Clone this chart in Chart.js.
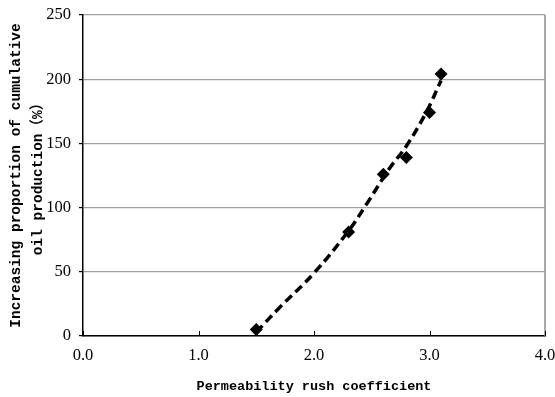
<!DOCTYPE html>
<html>
<head>
<meta charset="utf-8">
<script src="https://cdn.jsdelivr.net/npm/chart.js@4/dist/chart.umd.min.js"></script>
<style>
  html, body { margin: 0; padding: 0; background: #fff; }
  #wrap { width: 555px; height: 397px; }
</style>
</head>
<body>
<div id="wrap"><canvas id="rushChart"></canvas></div>
<script>
// measured points (diamonds)
const rushCoef = [1.50, 2.30, 2.60, 2.80, 3.00, 3.10]
const oilIncrease = [5, 81, 126, 139, 174, 204]

// dashed trend curve
const trendX = [1.50, 1.70, 2.00, 2.30, 2.45, 2.65, 2.80, 2.97, 3.10]
const trendY = [3, 22, 49, 82, 102, 130, 148, 174, 199]

const xTicks = [0, 1, 2, 3, 4]
const yTicks = [0, 50, 100, 150, 200, 250]

const toPoints = (xs, ys) => xs.map((x, i) => ({ x: x, y: ys[i] }))

// inward ticks on the bottom axis + grey right border
const frame = {
  id: "frame",
  afterDraw(chart) {
    const { ctx, chartArea, scales } = chart
    ctx.save()
    ctx.strokeStyle = "#8c8c8c"
    ctx.lineWidth = 1.5
    ctx.beginPath()
    ctx.moveTo(chartArea.right, chartArea.top)
    ctx.lineTo(chartArea.right, chartArea.bottom)
    ctx.stroke()
    ctx.strokeStyle = "#000"
    ctx.lineWidth = 1
    xTicks.forEach((v) => {
      const px = Math.round(scales.x.getPixelForValue(v)) + 0.5
      ctx.beginPath()
      ctx.moveTo(px, chartArea.bottom)
      ctx.lineTo(px, chartArea.bottom - 5)
      ctx.stroke()
    })
    ctx.restore()
  },
}

new Chart(document.getElementById("rushChart"), {
  type: "scatter",
  data: {
    datasets: [
      {
        type: "line",
        data: toPoints(trendX, trendY),
        borderColor: "#000",
        borderWidth: 3.5,
        borderDash: [9, 5],
        tension: 0.4,
        pointRadius: 0,
        fill: false,
      },
      {
        data: toPoints(rushCoef, oilIncrease),
        pointStyle: "rectRot",
        pointRadius: 6.5,
        backgroundColor: "#000",
        borderColor: "#000",
        borderWidth: 0,
      },
    ],
  },
  options: {
    responsive: true,
    maintainAspectRatio: false,
    animation: false,
    layout: { padding: { top: 15, right: 10 } },
    plugins: {
      legend: { display: false },
      tooltip: { enabled: false },
    },
    scales: {
      x: {
        type: "linear",
        min: 0,
        max: 4,
        afterFit: (s) => {
          s.height = 61
          s.paddingRight = 0
          s.paddingLeft = 0
        },
        afterBuildTicks: (s) => { s.ticks = xTicks.map((v) => ({ value: v })) },
        grid: { display: false, drawTicks: false },
        border: { color: "#000", width: 1.5 },
        ticks: {
          padding: 10,
          color: "#000",
          font: { family: "Liberation Serif", size: 16.5 },
          callback: (v) => v.toFixed(1),
        },
        title: {
          display: true,
          text: "Permeability rush coefficient",
          color: "#000",
          font: { family: "'Liberation Mono', 'Noto Sans CJK SC'", size: 13.5, weight: "bold", lineHeight: 1.2 },
          padding: { top: 0, bottom: 2 },
        },
      },
      y: {
        min: 0,
        max: 250,
        afterFit: (s) => {
          s.width = 83
          s.paddingTop = 0
          s.paddingBottom = 0
        },
        afterBuildTicks: (s) => { s.ticks = yTicks.map((v) => ({ value: v })) },
        grid: { color: "#a0a0a0", lineWidth: 1.2, tickLength: 4, tickColor: "#000" },
        border: { color: "#000", width: 1.5 },
        ticks: {
          padding: 8,
          color: "#000",
          font: { family: "Liberation Serif", size: 16.5 },
        },
        title: {
          display: true,
          text: ["Increasing proportion of cumulative", "oil production（%）"],
          color: "#000",
          font: { family: "'Liberation Mono', 'Noto Sans CJK SC'", size: 14.5, weight: "bold", lineHeight: "22px" },
          padding: { top: 5, bottom: 0 },
        },
      },
    },
  },
  plugins: [frame],
})
</script>
</body>
</html>
